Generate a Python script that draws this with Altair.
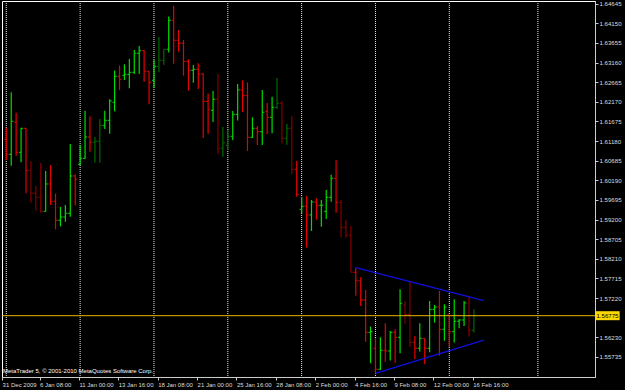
import json
import altair as alt
import pandas as pd

# ---- data (H8 bars) ----
opens = [1.61224, 1.60846, 1.61653, 1.60896, 1.61501, 1.60442, 1.59862, 1.59761, 1.59408, 1.60097,
         1.59660, 1.59181, 1.59265, 1.59358, 1.60299, 1.60593, 1.60745, 1.61283, 1.61148, 1.61173,
         1.61577, 1.61703, 1.62157, 1.62813, 1.62838, 1.62863, 1.62914, 1.63393, 1.63460, 1.62939,
         1.62712, 1.63065, 1.63216, 1.63494, 1.64225, 1.63721, 1.63645, 1.63191, 1.62964, 1.62989,
         1.62872, 1.62182, 1.61955, 1.62233, 1.60997, 1.61073, 1.61300, 1.61854, 1.62468, 1.62325,
         1.61274, 1.61501, 1.61417, 1.61930, 1.61779, 1.62031, 1.62132, 1.61249, 1.61501, 1.60467,
         1.59458, 1.59534, 1.59316, 1.59643, 1.59559, 1.59408, 1.59761, 1.60240, 1.59635, 1.59004,
         1.58803, 1.57870, 1.57651, 1.57172, 1.56356, 1.55953, 1.55423, 1.55902, 1.55885, 1.56356,
         1.56230, 1.57046, 1.56810, 1.56104, 1.55953, 1.56205, 1.55953, 1.56936, 1.56995, 1.56432,
         1.56793, 1.56373, 1.56634, 1.56667, 1.57096, 1.56407]
highs = [1.61518, 1.62409, 1.61896, 1.61518, 1.61518, 1.60669, 1.60047, 1.60627, 1.60425, 1.60577,
         1.59854, 1.59517, 1.59568, 1.61106, 1.60341, 1.61081, 1.61947, 1.61796, 1.61283, 1.61737,
         1.61947, 1.62233, 1.62956, 1.63082, 1.63115, 1.63250, 1.63477, 1.63578, 1.63477, 1.62939,
         1.63225, 1.63805, 1.63494, 1.64318, 1.64595, 1.63981, 1.63729, 1.63242, 1.63099, 1.63141,
         1.62889, 1.62376, 1.62443, 1.62872, 1.61535, 1.61459, 1.61939, 1.62619, 1.62712, 1.62662,
         1.61779, 1.61560, 1.62468, 1.62140, 1.62300, 1.62771, 1.62191, 1.61611, 1.61812, 1.60677,
         1.59770, 1.59795, 1.59694, 1.59736, 1.59694, 1.59946, 1.60333, 1.60694, 1.59694, 1.59189,
         1.59030, 1.57987, 1.57743, 1.57424, 1.56499, 1.56205, 1.56230, 1.56583, 1.56390, 1.56432,
         1.57441, 1.57147, 1.57634, 1.56264, 1.56583, 1.56205, 1.57147, 1.57046, 1.57399, 1.57062,
         1.56793, 1.57189, 1.56684, 1.57147, 1.57281, 1.56936]
lows = [1.60703, 1.60560, 1.60812, 1.60644, 1.59862, 1.59627, 1.59425, 1.59374, 1.59400, 1.59568,
        1.58954, 1.59030, 1.59147, 1.59273, 1.59559, 1.60577, 1.60736, 1.60913, 1.60635, 1.60635,
        1.61485, 1.61367, 1.61930, 1.62468, 1.62720, 1.62510, 1.62872, 1.62872, 1.62678, 1.62107,
        1.62519, 1.62914, 1.63107, 1.63410, 1.63132, 1.63435, 1.62830, 1.62451, 1.62653, 1.62493,
        1.61258, 1.61367, 1.61661, 1.60862, 1.60787, 1.60955, 1.61207, 1.61695, 1.61913, 1.60930,
        1.61258, 1.61081, 1.61081, 1.61358, 1.61375, 1.61989, 1.61123, 1.61089, 1.60350, 1.59778,
        1.59358, 1.58492, 1.58912, 1.59198, 1.59021, 1.59215, 1.59652, 1.59374, 1.58752, 1.58744,
        1.57870, 1.57281, 1.57020, 1.56121, 1.55574, 1.55322, 1.55406, 1.55616, 1.55642, 1.55591,
        1.55827, 1.56575, 1.55995, 1.55684, 1.55869, 1.55558, 1.55852, 1.56600, 1.55768, 1.56146,
        1.55995, 1.56096, 1.56457, 1.56516, 1.56247, 1.56348]
closes = [1.60846, 1.61678, 1.60896, 1.61501, 1.60442, 1.59862, 1.59761, 1.59408, 1.60097, 1.59660,
          1.59181, 1.59265, 1.59358, 1.60299, 1.60215, 1.60745, 1.61283, 1.61148, 1.61173, 1.61577,
          1.61703, 1.62191, 1.62813, 1.62737, 1.62863, 1.62914, 1.63393, 1.63460, 1.62939, 1.62662,
          1.63065, 1.63216, 1.63494, 1.64225, 1.63721, 1.63645, 1.63191, 1.62964, 1.62989, 1.62872,
          1.62182, 1.61981, 1.62233, 1.60997, 1.61140, 1.61300, 1.61854, 1.62468, 1.62325, 1.61274,
          1.61501, 1.61417, 1.61905, 1.61779, 1.62031, 1.62132, 1.61249, 1.61501, 1.60467, 1.59837,
          1.59534, 1.59316, 1.59643, 1.59559, 1.59562, 1.59761, 1.60240, 1.59635, 1.59004, 1.58803,
          1.57870, 1.57668, 1.57172, 1.56356, 1.56373, 1.55423, 1.55902, 1.55885, 1.56356, 1.56230,
          1.57088, 1.56810, 1.56104, 1.55953, 1.56205, 1.55953, 1.56936, 1.56995, 1.56432, 1.56995,
          1.56373, 1.56634, 1.56667, 1.57096, 1.56407, 1.56775]
kinds = ["r", "g", "r", "g", "r", "dr", "dr", "dr", "g", "r",
         "r", "g", "g", "g", "r", "g", "g", "r", "dg", "dg",
         "g", "g", "g", "r", "g", "g", "g", "g", "r", "r",
         "g", "dg", "dg", "g", "r", "r", "r", "r", "g", "r",
         "r", "r", "g", "dr", "dg", "dg", "g", "g", "r", "r",
         "g", "r", "g", "r", "g", "dg", "dr", "dg", "dr", "r",
         "g", "r", "g", "r", "g", "g", "g", "r", "dr", "dr",
         "dr", "r", "r", "r", "g", "r", "g", "r", "g", "r",
         "g", "dr", "dr", "r", "g", "r", "g", "g", "r", "g",
         "r", "g", "g", "g", "dr", "dg"]
bar_index = list(range(len(opens)))

# weekly separators (bar positions) and time-axis labels
grid_bars = [0, 15, 30, 45, 60, 75, 90, 108]
time_tick_pos = [-0.85, 6.75, 14.75, 22.75, 30.75, 38.75, 46.75, 54.75, 62.75, 70.75, 78.75, 86.75, 94.75]
time_labels = ["31 Dec 2009", "6 Jan 08:00", "11 Jan 00:00", "13 Jan 16:00", "18 Jan 08:00",
               "21 Jan 00:00", "25 Jan 16:00", "28 Jan 08:00", "2 Feb 00:00", "4 Feb 16:00",
               "9 Feb 08:00", "12 Feb 00:00", "16 Feb 16:00"]
price_ticks = [1.64645, 1.64150, 1.63655, 1.63160, 1.62665, 1.62170, 1.61675, 1.61180, 1.60685,
               1.60190, 1.59695, 1.59200, 1.58705, 1.58210, 1.57715, 1.57220, 1.56230, 1.55735]

# trend lines (bar index, price)
trend_name = ["upper", "upper", "lower", "lower"]
trend_bar = [71, 97, 75, 97]
trend_price = [1.57987, 1.57154, 1.55322, 1.56162]

current_price = closes[-1]
copyright_text = "MetaTrader 5, © 2001-2010 MetaQuotes Software Corp."

# ---- build ----
bars = pd.DataFrame({"i": bar_index, "open": opens, "high": highs, "low": lows,
                     "close": closes, "kind": kinds})
grid_df = pd.DataFrame({"gb": grid_bars})
trend_df = pd.DataFrame({"name": trend_name, "i": trend_bar, "p": trend_price})
one = pd.DataFrame({"t": [copyright_text]})

W, H = 593, 376
FONT = "Liberation Sans"

xscale = alt.Scale(domain=[-0.874, 119.6], nice=False, zero=False)
yscale = alt.Scale(domain=[1.55229, 1.64712], nice=False, zero=False)

label_expr = ("datum.value < 0 ? '31 Dec 2009' : " + json.dumps(time_labels).replace('"', "'")
              + "[round((datum.value + 1.25) / 8)]")
xaxis = alt.Axis(values=time_tick_pos, labelExpr=label_expr, title=None, grid=False,
                 labelAlign="left", labelBaseline="top", labelPadding=1, tickSize=3,
                 labelFontSize=6, labelFont=FONT, labelColor="#dddddd", tickColor="#cccccc",
                 domainColor="#cccccc", labelFlush=False, labelOverlap=False, labelBound=False)
yaxis = alt.Axis(orient="right", values=price_ticks, format=".5f", title=None, grid=False,
                 tickSize=3, labelPadding=1, labelFontSize=6.1, labelFont=FONT,
                 labelColor="#dddddd", tickColor="#cccccc", domainColor="#cccccc",
                 labelFlush=False, labelOverlap=False)

color = alt.Color("kind:N", legend=None,
                  scale=alt.Scale(domain=["g", "r", "dg", "dr"],
                                  range=["#00dc00", "#e60000", "#006a00", "#820000"]))

base = alt.Chart(bars)

hl = base.mark_rule(strokeWidth=1.2).encode(
    x=alt.X("i:Q", scale=xscale, axis=xaxis),
    y=alt.Y("low:Q", scale=yscale, axis=yaxis),
    y2="high:Q",
    color=color,
)
op = base.transform_calculate(il="datum.i - 0.42").mark_rule(strokeWidth=1).encode(
    x=alt.X("il:Q", scale=xscale, axis=xaxis), x2="i:Q",
    y=alt.Y("open:Q", scale=yscale, axis=yaxis), color=color,
)
cl = base.transform_calculate(ir="datum.i + 0.42").mark_rule(strokeWidth=1).encode(
    x=alt.X("i:Q", scale=xscale, axis=xaxis), x2="ir:Q",
    y=alt.Y("close:Q", scale=yscale, axis=yaxis), color=color,
)

grid = alt.Chart(grid_df).mark_rule(color="#e8e8e8", strokeDash=[1, 1], strokeWidth=1).encode(
    x=alt.X("gb:Q", scale=xscale, axis=xaxis)
)

price_line = alt.Chart(one).mark_rule(color="#e6b800", strokeWidth=1).encode(
    y=alt.Y(datum=current_price, scale=yscale, axis=yaxis)
)

trend = alt.Chart(trend_df).mark_line(color="#1010e0", strokeWidth=1.3).encode(
    x=alt.X("i:Q", scale=xscale, axis=xaxis),
    y=alt.Y("p:Q", scale=yscale, axis=yaxis),
    detail="name:N",
)

box = alt.Chart(one).mark_point(
    shape="M-1.35,-0.5L1.35,-0.5L1.35,0.5L-1.35,0.5Z", size=324, filled=True,
    color="#ffd700", opacity=1, clip=False, strokeWidth=0,
).encode(x=alt.value(W + 12.5), y=alt.Y(datum=current_price, scale=yscale, axis=yaxis))

box_text = alt.Chart(one).mark_text(
    fontSize=6.1, font=FONT, color="#000000", align="center", baseline="middle", clip=False
).encode(x=alt.value(W + 12.5), y=alt.Y(datum=current_price, scale=yscale, axis=yaxis),
         text=alt.value(f"{current_price:.5f}"))

copy_text = alt.Chart(one).mark_text(
    fontSize=6, font=FONT, color="#ffffff", align="left", baseline="alphabetic"
).encode(x=alt.value(1), y=alt.value(372), text="t:N")

chart = alt.layer(grid, hl, op, cl, price_line, trend, copy_text, box, box_text).properties(
    width=W, height=H,
    autosize=alt.AutoSizeParams(type="none"),
    padding={"left": 2, "top": 1, "right": 30, "bottom": 13},
    background="#000000",
).configure_view(stroke="#ffffff", strokeWidth=1)

chart.save("out.html", embed_options={"renderer": "svg", "actions": False})
